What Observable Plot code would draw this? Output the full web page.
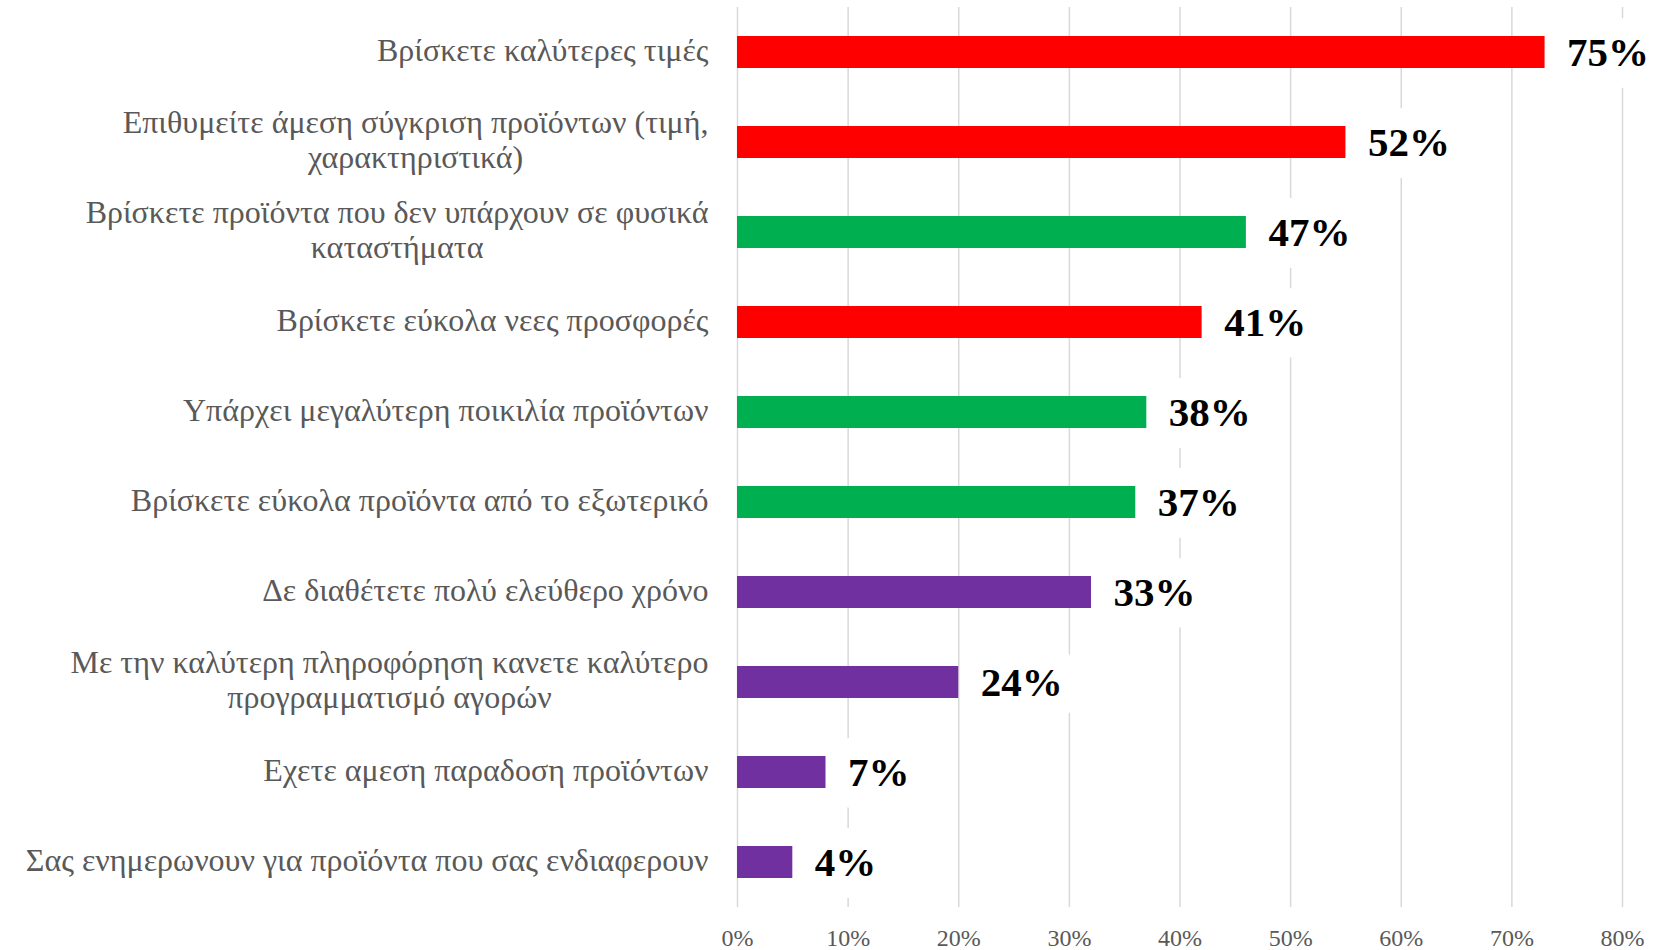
<!DOCTYPE html>
<html>
<head>
<meta charset="utf-8">
<script src="https://cdn.jsdelivr.net/npm/d3@7"></script>
<script src="https://cdn.jsdelivr.net/npm/@observablehq/plot@0.6"></script>
<style>
  html, body { margin: 0; padding: 0; background: #ffffff; }
</style>
</head>
<body>
<div id="chart"></div>
<script>
const categories = [
  "Βρίσκετε καλύτερες τιμές",
  "Επιθυμείτε άμεση σύγκριση προϊόντων (τιμή,\nχαρακτηριστικά)",
  "Βρίσκετε προϊόντα που δεν υπάρχουν σε φυσικά\nκαταστήματα",
  "Βρίσκετε εύκολα νεες προσφορές",
  "Υπάρχει μεγαλύτερη ποικιλία προϊόντων",
  "Βρίσκετε εύκολα προϊόντα από το εξωτερικό",
  "Δε διαθέτετε πολύ ελεύθερο χρόνο",
  "Με την καλύτερη πληροφόρηση κανετε καλύτερο\nπρογραμματισμό αγορών",
  "Εχετε αμεση παραδοση προϊόντων",
  "Σας ενημερωνουν για προϊόντα που σας ενδιαφερουν"
];
const barValues = [73, 55, 46, 42, 37, 36, 32, 20, 8, 5];
const valueLabels = ["75%", "52%", "47%", "41%", "38%", "37%", "33%", "24%", "7%", "4%"];
const barColors = ["#FF0000", "#FF0000", "#00B050", "#FF0000", "#00B050", "#00B050", "#7030A0", "#7030A0", "#7030A0", "#7030A0"];
const xTicks = [0, 10, 20, 30, 40, 50, 60, 70, 80];

const data = categories.map((c, i) => ({
  category: c, value: barValues[i], label: valueLabels[i], color: barColors[i]
}));

const labelOpts = {
  x: "value", y: "category", text: "label", dx: 22, textAnchor: "start",
  fontSize: 41, fontWeight: "bold", fontFamily: "'Liberation Serif', serif"
};

const chart = Plot.plot({
  width: 1659,
  height: 950,
  marginLeft: 737,
  marginRight: 37,
  marginTop: 7,
  marginBottom: 43,
  style: { fontFamily: "'Liberation Serif', serif", background: "#ffffff" },
  x: { domain: [0, 80] },
  y: { domain: categories, paddingInner: 0.644, paddingOuter: 0.322 },
  color: { type: "identity" },
  marks: [
    Plot.ruleX(xTicks, { stroke: "#d9d9d9", strokeWidth: 1.5 }),
    Plot.text(data, { ...labelOpts, fill: "#ffffff", stroke: "#ffffff", strokeWidth: 44, strokeLinejoin: "round" }),
    Plot.barX(data, { x: "value", y: "category", fill: "color" }),
    Plot.text(data, { ...labelOpts, fill: "#000000" }),
    Plot.axisX({ ticks: xTicks, tickSize: 0, tickPadding: 21, fontSize: 24, fill: "#595959", tickFormat: d => d + "%", label: null }),
    Plot.axisY({ tickSize: 0, tickPadding: 29, dy: -3, fontSize: 32, fill: "#595959", lineHeight: 1.1, label: null })
  ]
});

document.getElementById("chart").append(chart);

// Center multi-line category labels on each other (right edge of block at the axis offset)
chart.querySelectorAll('g[aria-label="y-axis tick label"] text').forEach(t => {
  const spans = Array.from(t.querySelectorAll("tspan"));
  if (spans.length > 1) {
    const widths = spans.map(s => s.getComputedTextLength());
    const maxW = Math.max(...widths);
    spans.forEach((s, i) => s.setAttribute("dx", -(maxW - widths[i]) / 2));
  }
});
</script>
</body>
</html>
